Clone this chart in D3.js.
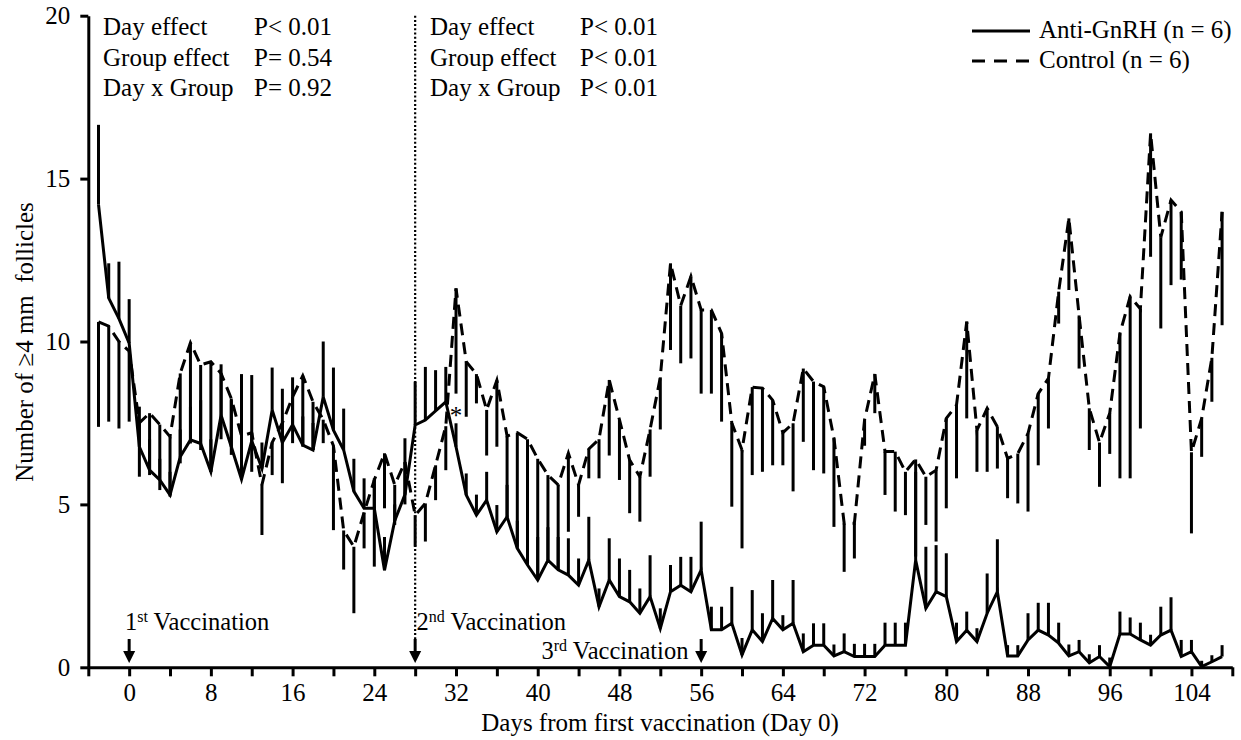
<!DOCTYPE html>
<html><head><meta charset="utf-8">
<script src="https://cdn.jsdelivr.net/npm/d3@7"></script>
<style>
body{margin:0;background:#fff}
svg{display:block}
text{font-family:"Liberation Serif","Times New Roman",serif;fill:#000;white-space:pre}
</style>
</head><body><svg id="c" width="1241" height="740"></svg>
<script>
// ---- data (days from first vaccination) ----
const days = [-3,-2,-1,0,1,2,3,4,5,6,7,8,9,10,11,12,13,14,15,16,17,18,19,20,21,22,23,24,25,26,27,28,29,30,31,32,33,34,35,36,37,38,39,40,41,42,43,44,45,46,47,48,49,50,51,52,53,54,55,56,57,58,59,60,61,62,63,64,65,66,67,68,69,70,71,72,73,74,75,76,77,78,79,80,81,82,83,84,85,86,87,88,89,90,91,92,93,94,95,96,97,98,99,100,101,102,103,104,105,106,107];
const antiMean = [14.2,11.33,10.7,9.95,6.77,6.05,5.75,5.29,6.46,6.98,6.87,6.0,7.74,6.77,5.77,6.95,6.1,7.9,6.9,7.45,6.82,6.67,8.3,7.28,6.67,5.4,4.88,4.88,2.98,4.5,5.3,7.44,7.59,7.87,8.15,6.77,5.29,4.67,5.13,4.16,4.62,3.65,3.14,2.68,3.29,2.99,2.83,2.52,3.29,1.86,2.68,2.17,2.01,1.66,2.17,1.19,2.32,2.52,2.32,2.99,1.15,1.15,1.35,0.38,1.15,0.79,1.5,1.15,1.35,0.48,0.68,0.68,0.35,0.48,0.33,0.33,0.33,0.68,0.68,0.68,3.29,1.81,2.32,2.17,0.79,1.14,0.79,1.66,2.32,0.35,0.35,0.84,1.14,0.99,0.74,0.35,0.48,0.14,0.33,0.02,1.02,1.02,0.84,0.68,0.99,1.14,0.33,0.48,0.02,0.17,0.33];
const antiUpper = [16.65,12.4,12.45,11.3,8.0,7.0,6.4,6.0,7.3,8.0,8.2,7.0,9.3,8.2,9.0,8.97,6.9,9.2,8.55,8.9,7.7,7.5,10.0,9.2,7.94,6.4,5.8,5.8,4.0,5.0,7.03,8.77,9.22,9.12,9.22,7.49,5.95,5.3,6.0,4.98,5.6,4.5,4.3,4.0,4.3,4.0,3.96,3.34,4.62,2.42,3.96,3.34,2.99,2.42,3.44,1.81,3.14,3.39,3.39,4.47,1.86,1.86,2.47,0.9,2.37,1.66,2.68,1.6,2.68,1.04,1.35,1.35,0.7,1.04,0.72,0.72,0.72,1.37,1.37,1.37,6.0,3.7,3.75,3.5,1.37,1.71,1.2,2.88,3.93,0.68,0.68,1.66,1.98,1.98,1.37,0.7,0.84,0.4,0.68,0.3,1.71,1.53,1.37,1.0,1.86,2.15,0.84,0.84,0.2,0.37,0.68];
const ctrlMean = [10.6,10.47,10.0,9.7,7.5,7.8,7.45,7.08,9.02,9.96,9.28,9.38,9.02,8.25,7.1,7.2,5.6,6.9,7.5,8.3,8.95,8.15,7.6,6.8,4.2,3.7,4.75,5.75,6.57,5.6,6.3,4.67,5.03,6.2,7.4,11.63,9.38,9.0,7.9,8.81,7.1,7.2,7.0,6.4,5.9,5.6,6.57,5.6,6.7,7.0,8.82,7.6,6.36,5.85,7.3,8.9,12.4,11.1,12.0,10.97,10.97,10.25,7.5,6.67,8.6,8.57,8.2,7.2,7.49,9.17,8.77,8.61,7.03,4.42,4.42,7.6,9.0,6.62,6.62,6.0,6.38,5.85,6.05,7.64,8.05,10.61,7.28,7.95,7.38,6.41,6.56,7.18,8.4,8.87,11.53,13.78,10.8,7.95,6.9,7.8,10.25,11.38,11.0,16.39,13.2,14.34,13.98,6.6,7.64,9.5,13.98];
const ctrlLower = [7.38,7.54,7.33,7.54,5.85,5.9,5.44,5.24,6.26,6.87,6.67,6.0,7.0,6.52,5.9,6.0,4.06,5.9,5.65,6.88,6.77,6.67,6.88,4.21,3.0,1.66,3.65,3.09,4.88,4.37,5.0,3.7,3.86,5.13,6.05,8.4,7.69,8.1,6.5,6.77,4.6,3.7,3.2,2.8,3.3,3.0,4.16,4.62,5.8,5.8,6.5,5.75,4.73,4.47,5.85,7.3,9.74,9.33,9.48,8.4,8.4,7.54,4.93,3.65,5.9,6.0,6.2,6.2,5.4,6.92,6.05,5.95,4.31,2.93,3.34,6.8,7.8,5.29,4.78,4.67,3.4,4.37,3.86,4.88,5.8,7.64,6.0,6.0,6.1,5.19,5.03,4.78,6.2,7.33,10.55,11.58,9.17,6.67,5.54,6.55,5.8,5.8,7.33,12.6,10.4,11.73,11.9,4.11,6.46,8.15,10.5];

const xTicks = [-4,0,4,8,12,16,20,24,28,32,36,40,44,48,52,56,60,64,68,72,76,80,84,88,92,96,100,104,108];
const xTickLabels = [0,8,16,24,32,40,48,56,64,72,80,88,96,104];
const yTicks = [0,5,10,15,20];
const vaccinationDays = [0,28,56];
const vaccinationLabels = [["1","st"," Vaccination"],["2","nd"," Vaccination"],["3","rd"," Vaccination"]];
const statsLeft = [["Day effect","P< 0.01"],["Group effect","P= 0.54"],["Day x Group","P= 0.92"]];
const statsRight = [["Day effect","P< 0.01"],["Group effect","P< 0.01"],["Day x Group","P< 0.01"]];
const seriesNames = ["Anti-GnRH (n = 6)","Control (n = 6)"];

// ---- layout ----
const FONT = "'Liberation Serif','Times New Roman',serif";
const svg = d3.select("#c");
const x = d3.scaleLinear().domain([-4,108]).range([88.3,1232.3]);
const y = d3.scaleLinear().domain([0,20]).range([667.3,15.7]);
const FS = 25;
const DASH = "12,7";

function txt(sel){ return sel.append("text").attr("font-family",FONT).attr("fill","#000").attr("font-size",FS); }

// error bars
const g = svg.append("g");
g.selectAll(".eb1").data(days).join("line")
  .attr("x1",(d)=>x(d)).attr("x2",(d)=>x(d))
  .attr("y1",(d,i)=>y(antiMean[i])).attr("y2",(d,i)=>y(antiUpper[i]))
  .attr("stroke","#000").attr("stroke-width",3);
g.selectAll(".eb2").data(days).join("line")
  .attr("x1",(d)=>x(d)).attr("x2",(d)=>x(d))
  .attr("y1",(d,i)=>y(ctrlMean[i])).attr("y2",(d,i)=>y(ctrlLower[i]))
  .attr("stroke","#000").attr("stroke-width",3);

// lines
const lineA = d3.line().x((d)=>x(d)).y((d,i)=>y(antiMean[i]));
const lineC = d3.line().x((d)=>x(d)).y((d,i)=>y(ctrlMean[i]));
g.append("path").attr("d",lineA(days)).attr("fill","none").attr("stroke","#000")
  .attr("stroke-width",3).attr("stroke-linejoin","miter");
g.append("path").attr("d",lineC(days)).attr("fill","none").attr("stroke","#000")
  .attr("stroke-width",3).attr("stroke-dasharray",DASH);

// dotted line at 2nd vaccination
svg.append("line").attr("x1",x(28)).attr("x2",x(28)).attr("y1",y(20)).attr("y2",640)
  .attr("stroke","#000").attr("stroke-width",2.2).attr("stroke-dasharray","2,2.2");

// axes
const xAxis = d3.axisBottom(x).tickValues(xTicks).tickSize(9).tickSizeOuter(0).tickPadding(7)
  .tickFormat((d)=>xTickLabels.includes(d)?d:"");
const gx = svg.append("g").attr("transform",`translate(0,${y(0)})`).call(xAxis);
const yAxis = d3.axisLeft(y).tickValues(yTicks).tickSize(8).tickSizeOuter(0).tickPadding(10);
const gy = svg.append("g").attr("transform",`translate(${x(-4)},0)`).call(yAxis);
[gx,gy].forEach((a)=>{
  a.attr("font-family",FONT).attr("font-size",FS);
  a.select(".domain").attr("stroke-width",3);
  a.selectAll(".tick line").attr("stroke-width",3);
  a.selectAll("text").attr("fill","#000");
});

// axis titles
txt(svg).attr("x",660).attr("y",731).attr("text-anchor","middle")
  .text("Days from first vaccination (Day 0)");
txt(svg).attr("transform","translate(33,342) rotate(-90)").attr("text-anchor","middle")
  .text("Number of \u22654 mm  follicles");

// stats blocks
function stats(rows, x0, x1){
  rows.forEach((r,i)=>{
    const by = 35 + i*30.5;
    txt(svg).attr("x",x0).attr("y",by).text(r[0]);
    txt(svg).attr("x",x1).attr("y",by).text(r[1]);
  });
}
stats(statsLeft,103,254);
stats(statsRight,430,580);

// legend
svg.append("line").attr("x1",972).attr("x2",1030).attr("y1",31).attr("y2",31)
  .attr("stroke","#000").attr("stroke-width",3);
svg.append("line").attr("x1",972).attr("x2",1030).attr("y1",61).attr("y2",61)
  .attr("stroke","#000").attr("stroke-width",3).attr("stroke-dasharray","13,9");
txt(svg).attr("x",1039).attr("y",38).text(seriesNames[0]);
txt(svg).attr("x",1039).attr("y",68).text(seriesNames[1]);

// vaccination arrows and labels
vaccinationDays.forEach((d)=>{
  const cx = x(d);
  svg.append("line").attr("x1",cx).attr("x2",cx).attr("y1",639).attr("y2",653)
    .attr("stroke","#000").attr("stroke-width",3);
  svg.append("path").attr("d",`M${cx-6},651L${cx+6},651L${cx},663Z`).attr("fill","#000");
});
const labelPos = [[125,630],[416.5,630],[541.5,658.5]];
vaccinationLabels.forEach((l,i)=>{
  const t = txt(svg).attr("x",labelPos[i][0]).attr("y",labelPos[i][1]).attr("font-size",24.5);
  t.append("tspan").text(l[0]);
  t.append("tspan").attr("font-size",16).attr("dy",-8).text(l[1]);
  t.append("tspan").attr("dy",8).text(l[2]);
});

// significance marker
txt(svg).attr("x",x(32)).attr("y",424).attr("text-anchor","middle").text("*");
</script>
</body></html>
